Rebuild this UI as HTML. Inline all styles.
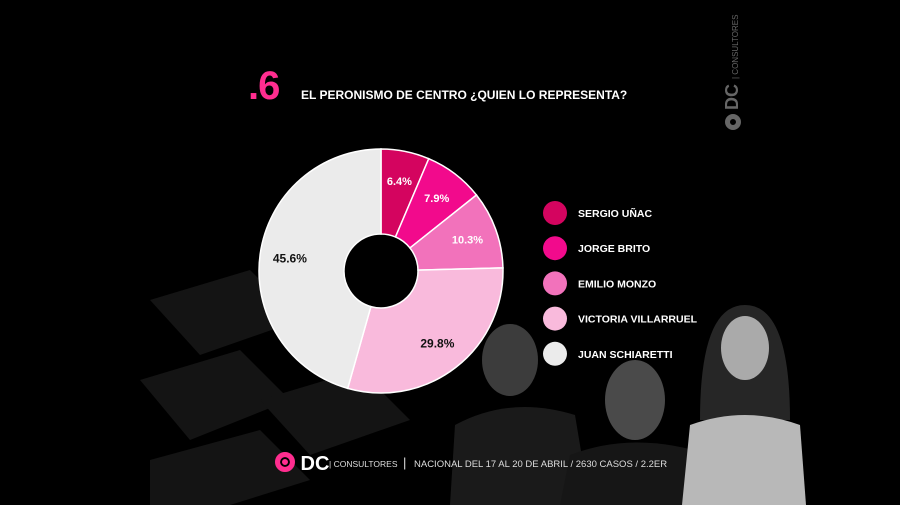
<!DOCTYPE html>
<html><head><meta charset="utf-8"><style>
html,body{margin:0;padding:0;background:#000;}
#root{position:relative;width:900px;height:505px;overflow:hidden;background:#000;font-family:"Liberation Sans",sans-serif;}
.t{position:absolute;color:#fff;font-weight:bold;white-space:nowrap;}
</style></head><body>
<div id="root">
<svg width="900" height="505" style="position:absolute;left:0;top:0">
  <g fill="#141414">
    <polygon points="150,300 250,270 300,320 200,355"/>
    <polygon points="140,380 240,350 290,400 190,440"/>
    <polygon points="150,460 260,430 310,480 230,505 150,505"/>
    <polygon points="260,400 360,370 410,420 310,455"/>
  </g>
  <g>
    <ellipse cx="510" cy="360" rx="28" ry="36" fill="#3c3c3c"/>
    <path d="M450,505 L455,425 Q510,395 575,415 L590,505 Z" fill="#1a1a1a"/>
  </g>
  <g>
    <ellipse cx="635" cy="400" rx="30" ry="40" fill="#4a4a4a"/>
    <path d="M560,505 L570,455 Q635,430 710,455 L725,505 Z" fill="#161616"/>
  </g>
  <g>
    <path d="M700,420 Q700,305 745,305 Q790,305 790,420 Z" fill="#262626"/>
    <ellipse cx="745" cy="348" rx="24" ry="32" fill="#aaa"/>
    <path d="M682,505 L690,425 Q745,405 800,425 L806,505 Z" fill="#b8b8b8"/>
  </g>
</svg>

<div class="t" style="left:248px;top:64px;font-size:40px;color:#ff2d8f;letter-spacing:-1px">.6</div>
<div class="t" style="left:301px;top:88px;font-size:12px">EL PERONISMO DE CENTRO ¿QUIEN LO REPRESENTA?</div>

<svg id="pie" width="900" height="505" style="position:absolute;left:0;top:0"></svg>

<div class="t" style="left:275px;top:452px;font-size:20px;color:#fff;"><span style="display:inline-block;width:10px;height:10px;border:5px solid #ff2d8f;border-radius:50%;vertical-align:-2px;box-shadow:inset 0 0 0 2px #000;background:#ff2d8f"></span> DC</div>
<div class="t" style="left:329px;top:459px;font-size:8.5px;font-weight:normal;color:#ddd">| CONSULTORES</div>
<div class="t" style="left:403px;top:455px;font-size:13px;font-weight:normal;color:#ddd">|</div>
<div class="t" style="left:414px;top:459px;font-size:9.5px;font-weight:normal;color:#ddd">NACIONAL  DEL 17 AL 20 DE ABRIL / 2630 CASOS / 2.2ER</div>
<div class="t" style="left:722px;top:110px;font-size:18px;line-height:20px;color:#666;transform:rotate(-90deg);transform-origin:0 0">DC <span style="font-size:8px;font-weight:normal">| CONSULTORES</span></div>
<div style="position:absolute;left:725px;top:114px;width:6px;height:6px;border:5px solid #666;border-radius:50%"></div>

<script>
const categories=["SERGIO UÑAC","JORGE BRITO","EMILIO MONZO","VICTORIA VILLARRUEL","JUAN SCHIARETTI"];
const values=[6.4,7.9,10.3,29.8,45.6];
const labels=["6.4%","7.9%","10.3%","29.8%","45.6%"];
const colors=["#d4045f","#f20a8c","#f272bb","#f9badc","#ebebeb"];
const svg=document.getElementById('pie');
const NS="http://www.w3.org/2000/svg";
const cx=381,cy=271,R=122,r=37;
const total=values.reduce((a,b)=>a+b,0);
function pt(a,rad){return [cx+rad*Math.sin(a),cy-rad*Math.cos(a)];}
let acc=0;
values.forEach((v,i)=>{
  const a0=acc/total*2*Math.PI;acc+=v;const a1=acc/total*2*Math.PI;
  const large=(a1-a0)>Math.PI?1:0;
  const p0=pt(a0,R),p1=pt(a1,R),q1=pt(a1,r),q0=pt(a0,r);
  const p=document.createElementNS(NS,'path');
  p.setAttribute('d',`M${p0} A${R},${R} 0 ${large} 1 ${p1} L${q1} A${r},${r} 0 ${large} 0 ${q0} Z`);
  p.setAttribute('fill',colors[i]);p.setAttribute('stroke','#fff');p.setAttribute('stroke-width','1.5');
  
  
  svg.appendChild(p);
  const m=(a0+a1)/2;const lp=pt(m,92);
  const t=document.createElementNS(NS,'text');
  t.setAttribute('x',lp[0]);t.setAttribute('y',lp[1]+4);t.setAttribute('text-anchor','middle');
  t.setAttribute('font-family','Liberation Sans, sans-serif');t.setAttribute('font-weight','bold');
  t.setAttribute('font-size',i==4||i==3?'12':'11');t.setAttribute('fill',i>=3?'#111':'#fff');
  t.textContent=labels[i];
  
  
  svg.appendChild(t);
  const ly=213+i*35.2;
  const c=document.createElementNS(NS,'circle');
  c.setAttribute('cx',555);c.setAttribute('cy',ly);c.setAttribute('r',12);c.setAttribute('fill',colors[i]);
  
  
  svg.appendChild(c);
  const lt=document.createElementNS(NS,'text');
  lt.setAttribute('x',578);lt.setAttribute('y',ly+4);
  lt.setAttribute('font-family','Liberation Sans, sans-serif');lt.setAttribute('font-weight','bold');
  lt.setAttribute('font-size','10.5');lt.setAttribute('fill','#fff');
  lt.textContent=categories[i];
  
  
  svg.appendChild(lt);
});
</script>
</div>
</body></html>
